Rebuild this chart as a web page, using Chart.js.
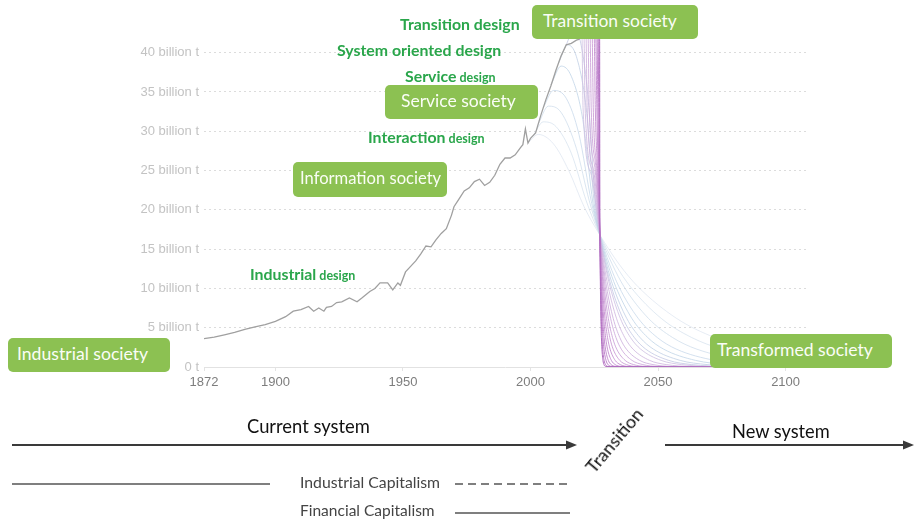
<!DOCTYPE html>
<html>
<head>
<meta charset="utf-8">
<script src="https://cdn.jsdelivr.net/npm/chart.js@4.4.1/dist/chart.umd.min.js"></script>
<style>
  html, body { margin: 0; padding: 0; background: #fff; }
  #wrap { position: relative; width: 915px; height: 521px; overflow: hidden; font-family: Lato, "Open Sans", sans-serif; }
  #chartBox { position: absolute; left: 0; top: 0; width: 915px; height: 395px; }
  .box { position: absolute; background: #8cc152; border-radius: 5px; }
  .box span { position: absolute; color: #fafdf6; white-space: nowrap; line-height: 1; font-size: 16px; }
  .lab { position: absolute; color: #2aa64b; font-weight: 700; white-space: nowrap; line-height: 1; font-size: 16px; }
  .lab small { font-size: 12.5px; }
  .txt { position: absolute; white-space: nowrap; line-height: 1; font-size: 16px; }
  svg { position: absolute; left: 0; top: 0; }
</style>
</head>
<body>
<div id="wrap">
  <div id="chartBox"><canvas id="c" width="915" height="395"></canvas></div>
  <svg width="915" height="521">
    <line x1="12" y1="445" x2="568" y2="445" stroke="#3a3a3a" stroke-width="2"/>
    <polygon points="577,445 566,440.5 566,449.5" fill="#3a3a3a"/>
    <line x1="665" y1="445" x2="905" y2="445" stroke="#3a3a3a" stroke-width="2"/>
    <polygon points="914,445 903,440.5 903,449.5" fill="#3a3a3a"/>
    <line x1="12" y1="484" x2="270" y2="484" stroke="#555" stroke-width="1.6"/>
    <line x1="455" y1="484" x2="570" y2="484" stroke="#555" stroke-width="1.6" stroke-dasharray="8,5"/>
    <line x1="455" y1="513" x2="570" y2="513" stroke="#555" stroke-width="1.6"/>
  </svg>
  <div id="overlay"></div>
</div>
<script>
// Axis ticks
const yearTicks = [1872, 1900, 1950, 2000, 2050, 2100];
const emissionTicks = [0, 5, 10, 15, 20, 25, 30, 35, 40];

// Historical emissions, billion tonnes
const historyYears = [1872, 1876, 1880, 1884, 1888, 1892, 1896, 1900, 1904, 1907, 1910, 1913, 1915, 1917, 1919, 1920,
  1922, 1924, 1926, 1929, 1932, 1934, 1937, 1939, 1941, 1944, 1946, 1948, 1949, 1951, 1953, 1955, 1957, 1959, 1961,
  1963, 1965, 1967, 1969, 1970, 1972, 1974, 1976, 1978, 1980, 1982, 1984, 1986, 1988, 1990, 1992, 1994, 1996, 1997,
  1998, 1999, 2000, 2002, 2004, 2006, 2008, 2010, 2012, 2014, 2016, 2018, 2019];
const historyValues = [3.6, 3.8, 4.1, 4.4, 4.8, 5.1, 5.4, 5.8, 6.4, 7.1, 7.3, 7.7, 7.1, 7.5, 7.1, 7.6,
  7.7, 8.2, 8.3, 8.8, 8.3, 8.8, 9.6, 10.0, 10.7, 10.7, 9.8, 10.7, 10.4, 12.1, 12.8, 13.5, 14.4, 15.4, 15.3,
  16.2, 17.0, 17.6, 19.3, 20.4, 21.4, 22.4, 22.8, 23.6, 23.9, 23.1, 23.5, 24.4, 25.8, 26.6, 26.6, 27.0, 27.9, 28.3,
  30.3, 28.5, 29.1, 29.8, 32.0, 34.0, 35.8, 37.8, 39.6, 41.0, 41.2, 41.6, 41.7];

// Transition pathways. The first seven branch off the historical curve and fall slowly;
// the rest rise past today's level and drop ever more abruptly.
const pathwayYears = [
  [1999, 2003, 2009, 2015, 2021, 2027.2, 2034.7, 2042.2, 2057.2, 2072.2, 2087.2, 2108],
  [2001, 2005, 2010, 2016, 2022, 2027.2, 2033.2, 2039.2, 2051.2, 2063.2, 2075.2, 2099.2, 2108],
  [2003, 2007, 2012, 2018, 2023, 2027.2, 2032.0, 2036.7, 2046.2, 2055.7, 2065.2, 2084.2, 2103.2],
  [2005, 2009, 2014, 2019, 2024, 2027.2, 2030.95, 2034.7, 2042.2, 2049.7, 2057.2, 2072.2, 2087.2, 2108],
  [2008, 2012, 2016, 2020.5, 2024.5, 2027.2, 2030.3, 2033.45, 2039.7, 2045.95, 2052.2, 2064.7, 2077.2, 2096],
  [2011, 2014.5, 2018, 2021.8, 2025, 2027.2, 2029.8, 2032.45, 2037.7, 2042.95, 2048.2, 2058.7, 2069.2, 2085],
  [2014, 2017, 2019.5, 2022.5, 2025.5, 2027.2, 2029.45, 2031.7, 2036.2, 2040.7, 2045.2, 2054.2, 2063.2, 2076.7, 2100],
  [2019, 2019.6, 2020.2, 2020.6, 2024.0, 2027.2, 2029.2, 2031.2, 2035.2, 2039.2, 2043.2, 2051.2, 2059.2, 2071.2, 2100],
  [2019, 2020.3, 2021.0, 2021.4, 2024.5, 2027.2, 2028.8, 2030.45, 2033.7, 2036.95, 2040.2, 2046.7, 2053.2, 2063.0, 2100],
  [2019, 2021.1, 2021.8, 2022.2, 2025.0, 2027.2, 2028.5, 2029.8, 2032.4, 2035.0, 2037.6, 2042.8, 2048.0, 2055.8, 2100],
  [2019, 2021.9, 2022.6, 2023.0, 2025.3, 2027.2, 2028.25, 2029.3, 2031.4, 2033.5, 2035.6, 2039.8, 2044.0, 2050.3, 2100],
  [2019, 2022.7, 2023.4, 2023.8, 2025.7, 2027.2, 2028.03, 2028.85, 2030.5, 2032.15, 2033.8, 2037.1, 2040.4, 2045.35, 2100],
  [2019, 2023.5, 2024.2, 2024.6, 2026.1, 2027.2, 2027.85, 2028.5, 2029.8, 2031.1, 2032.4, 2035.0, 2037.6, 2041.5, 2100],
  [2019, 2024.3, 2025.0, 2025.4, 2026.4, 2027.2, 2027.7, 2028.2, 2029.2, 2030.2, 2031.2, 2033.2, 2035.2, 2038.2, 2100],
  [2019, 2024.9, 2025.6, 2026.0, 2026.7, 2027.2, 2027.58, 2027.95, 2028.7, 2029.45, 2030.2, 2031.7, 2033.2, 2035.45, 2100],
  [2019, 2025.4, 2026.1, 2026.4, 2026.9, 2027.2, 2027.48, 2027.75, 2028.3, 2028.85, 2029.4, 2030.5, 2031.6, 2033.25, 2100],
  [2019, 2025.8, 2026.5, 2026.75, 2027.0, 2027.2, 2027.4, 2027.6, 2028.0, 2028.4, 2028.8, 2029.6, 2030.4, 2031.6, 2100],
  [2019, 2026.2, 2026.85, 2027.0, 2027.1, 2027.2, 2027.34, 2027.48, 2027.75, 2028.03, 2028.3, 2028.85, 2029.4, 2030.23, 2100],
  [2019, 2026.5, 2027.1, 2027.16, 2027.18, 2027.2, 2027.3, 2027.4, 2027.6, 2027.8, 2028.0, 2028.4, 2028.8, 2029.4, 2100]
];
const pathwayValues = [
  [28.5, 29.6, 28.4, 25.0, 20.4, 16.8, 13.1, 10.2, 6.2, 3.75, 2.27, 1.1],
  [29.4, 31.2, 30.6, 27.2, 21.0, 16.8, 13.1, 10.2, 6.2, 3.75, 2.27, 0.84, 0.55],
  [30.9, 33.2, 32.4, 27.8, 21.2, 16.8, 13.1, 10.2, 6.2, 3.75, 2.27, 0.84, 0.31],
  [33.0, 35.2, 34.2, 29.6, 20.8, 16.8, 13.1, 10.2, 6.2, 3.75, 2.27, 0.84, 0.31, 0.08],
  [35.9, 38.3, 37.0, 31.5, 20.8, 16.8, 13.1, 10.2, 6.2, 3.75, 2.27, 0.84, 0.31, 0.07],
  [38.7, 41.0, 39.5, 33.0, 20.8, 16.8, 13.1, 10.2, 6.2, 3.75, 2.27, 0.84, 0.31, 0.07],
  [41.0, 43.0, 41.5, 34.5, 20.6, 16.8, 13.1, 10.2, 6.2, 3.75, 2.27, 0.84, 0.31, 0.07, 0.02],
  [41.7, 45.5, 42.0, 33.0, 24.2, 16.8, 13.1, 10.2, 6.2, 3.75, 2.27, 0.84, 0.31, 0.07, 0.01],
  [41.7, 45.5, 42.0, 33.0, 24.5, 16.8, 13.1, 10.2, 6.2, 3.75, 2.27, 0.84, 0.31, 0.07, 0.01],
  [41.7, 45.5, 42.0, 33.0, 24.5, 16.8, 13.1, 10.2, 6.2, 3.75, 2.27, 0.84, 0.31, 0.07, 0.01],
  [41.7, 45.5, 42.0, 33.0, 25.2, 16.8, 13.1, 10.2, 6.2, 3.75, 2.27, 0.84, 0.31, 0.07, 0.01],
  [41.7, 45.5, 42.0, 33.0, 25.2, 16.8, 13.1, 10.2, 6.2, 3.75, 2.27, 0.84, 0.31, 0.07, 0.01],
  [41.7, 45.5, 42.0, 33.0, 24.7, 16.8, 13.1, 10.2, 6.2, 3.75, 2.27, 0.84, 0.31, 0.07, 0.01],
  [41.7, 45.5, 42.0, 33.0, 24.2, 16.8, 13.1, 10.2, 6.2, 3.75, 2.27, 0.84, 0.31, 0.07, 0.01],
  [41.7, 45.5, 42.0, 33.0, 23.0, 16.8, 13.1, 10.2, 6.2, 3.75, 2.27, 0.84, 0.31, 0.07, 0.01],
  [41.7, 45.5, 42.0, 33.0, 21.8, 16.8, 13.1, 10.2, 6.2, 3.75, 2.27, 0.84, 0.31, 0.07, 0.01],
  [41.7, 45.5, 42.0, 33.0, 21.4, 16.8, 13.1, 10.2, 6.2, 3.75, 2.27, 0.84, 0.31, 0.07, 0.01],
  [41.7, 45.5, 42.0, 30.0, 19.9, 16.8, 13.1, 10.2, 6.2, 3.75, 2.27, 0.84, 0.31, 0.07, 0.01],
  [41.7, 45.5, 42.0, 26.0, 19.0, 16.8, 13.1, 10.2, 6.2, 3.75, 2.27, 0.84, 0.31, 0.07, 0.01]
];

// Pale blue for the slow pathways shading into lilac and purple for the abrupt ones
const pathwayColors = [
  'rgba(214,224,236,0.6)', 'rgba(208,221,235,0.65)', 'rgba(202,218,234,0.7)', 'rgba(197,215,233,0.75)',
  'rgba(193,212,231,0.8)', 'rgba(192,207,229,0.8)', 'rgba(195,200,227,0.8)',
  'rgba(205,190,225,0.8)', 'rgba(206,182,222,0.82)', 'rgba(205,175,220,0.84)', 'rgba(204,168,218,0.85)',
  'rgba(202,160,215,0.86)', 'rgba(200,152,212,0.88)', 'rgba(197,145,210,0.9)', 'rgba(194,138,207,0.9)',
  'rgba(190,130,204,0.92)', 'rgba(186,123,200,0.94)', 'rgba(182,117,197,0.96)', 'rgba(176,110,192,1)'
];

const datasets = [{
  data: historyYears.map((x, i) => ({ x: x, y: historyValues[i] })),
  borderColor: '#a0a0a0',
  borderWidth: 1.3,
  pointRadius: 0,
  tension: 0,
  order: 0
}];
pathwayYears.forEach((ys, k) => {
  datasets.push({
    data: ys.map((x, i) => ({ x: x, y: pathwayValues[k][i] })),
    borderColor: pathwayColors[k],
    borderWidth: 1,
    pointRadius: 0,
    cubicInterpolationMode: 'monotone',
    order: 1 + (pathwayYears.length - 1 - k)
  });
});

new Chart(document.getElementById('c'), {
  type: 'line',
  data: { datasets: datasets },
  options: {
    responsive: false,
    animation: false,
    devicePixelRatio: 1,
    layout: { padding: { top: 37, right: 109, left: 0, bottom: 0 } },
    plugins: { legend: { display: false }, tooltip: { enabled: false } },
    scales: {
      x: {
        type: 'linear', min: 1872, max: 2108,
        afterBuildTicks: s => { s.ticks = yearTicks.map(v => ({ value: v })); },
        afterFit: s => { s.height = 28; },
        ticks: { color: '#7d7d7d', font: { family: 'Liberation Sans', size: 13 }, padding: 4,
                 maxRotation: 0, autoSkip: false, callback: v => String(v) },
        grid: { drawOnChartArea: false, drawTicks: true, tickLength: 4, color: '#e4e4e4' },
        border: { display: true, color: '#e2e2e2' }
      },
      y: {
        type: 'linear', min: 0, max: 42,
        afterBuildTicks: s => { s.ticks = emissionTicks.map(v => ({ value: v })); },
        afterFit: s => { s.width = 204; },
        ticks: { color: '#c3c3c3', font: { family: 'Liberation Sans', size: 13 }, padding: 5,
                 callback: v => v === 0 ? '0 t' : v + ' billion t' },
        grid: { drawTicks: false, color: c => c.tick && c.tick.value === 0 ? 'rgba(0,0,0,0)' : '#dcdcdc' },
        border: { display: false, dash: [2, 3] }
      }
    }
  }
});

// Annotation layer
const overlay = document.getElementById('overlay');
const fitTo = (el, target) => {
  const w = el.offsetWidth;
  const fs = parseFloat(getComputedStyle(el).fontSize);
  const nfs = fs * target / w;
  el.style.fontSize = nfs + 'px';
  return nfs;
};

const boxes = [
  { t: 'Industrial society', x: 8, y: 338, w: 162, h: 34, tx: 17, tw: 131 },
  { t: 'Information society', x: 293, y: 162, w: 154, h: 35, tx: 300, tw: 141 },
  { t: 'Service society', x: 385, y: 85, w: 153, h: 34, tx: 401, tw: 115 },
  { t: 'Transition society', x: 532, y: 5, w: 166, h: 34, tx: 543, tw: 134 },
  { t: 'Transformed society', x: 710, y: 334, w: 182, h: 34, tx: 717, tw: 156 }
];
boxes.forEach(b => {
  const d = document.createElement('div');
  d.className = 'box';
  Object.assign(d.style, { left: b.x + 'px', top: b.y + 'px', width: b.w + 'px', height: b.h + 'px' });
  const s = document.createElement('span');
  s.textContent = b.t;
  d.appendChild(s);
  overlay.appendChild(d);
  const fs = fitTo(s, b.tw);
  s.style.left = (b.tx - b.x) + 'px';
  s.style.top = (b.h / 2 - 0.56 * fs) + 'px';
});

// Design labels share one type size, taken from the widest line
const probe = document.createElement('div');
probe.className = 'lab';
probe.textContent = 'Transition design';
overlay.appendChild(probe);
const labelSize = fitTo(probe, 120);
overlay.removeChild(probe);

const designLabels = [
  { main: 'Transition design', x: 400, cy: 25 },
  { main: 'System oriented design', x: 337, cy: 51 },
  { main: 'Service', small: 'design', x: 405, cy: 77 },
  { main: 'Interaction', small: 'design', x: 368, cy: 138 },
  { main: 'Industrial', small: 'design', x: 250, cy: 275 }
];
designLabels.forEach(l => {
  const d = document.createElement('div');
  d.className = 'lab';
  d.style.fontSize = labelSize + 'px';
  d.appendChild(document.createTextNode(l.main));
  if (l.small) {
    const sm = document.createElement('small');
    sm.textContent = ' ' + l.small;
    d.appendChild(sm);
  }
  overlay.appendChild(d);
  d.style.left = l.x + 'px';
  d.style.top = (l.cy - 0.58 * labelSize) + 'px';
});

const plainTexts = [
  { t: 'Current system', x: 247, cy: 427, w: 123, color: '#111' },
  { t: 'New system', x: 732, cy: 432, w: 98, color: '#111' },
  { t: 'Industrial Capitalism', x: 300, cy: 483, w: 140, color: '#444' },
  { t: 'Financial Capitalism', x: 300, cy: 512, w: 135, color: '#444' }
];
plainTexts.forEach(p => {
  const d = document.createElement('div');
  d.className = 'txt';
  d.textContent = p.t;
  d.style.color = p.color;
  overlay.appendChild(d);
  const fs = fitTo(d, p.w);
  d.style.left = p.x + 'px';
  d.style.top = (p.cy - 0.56 * fs) + 'px';
});

// Rotated marker between the two systems
const tr = document.createElement('div');
tr.className = 'txt';
tr.textContent = 'Transition';
tr.style.color = '#111';
overlay.appendChild(tr);
fitTo(tr, 78);
tr.style.left = (614 - tr.offsetWidth / 2) + 'px';
tr.style.top = (440 - tr.offsetHeight / 2) + 'px';
tr.style.transform = 'rotate(-50deg)';
</script>
</body>
</html>
